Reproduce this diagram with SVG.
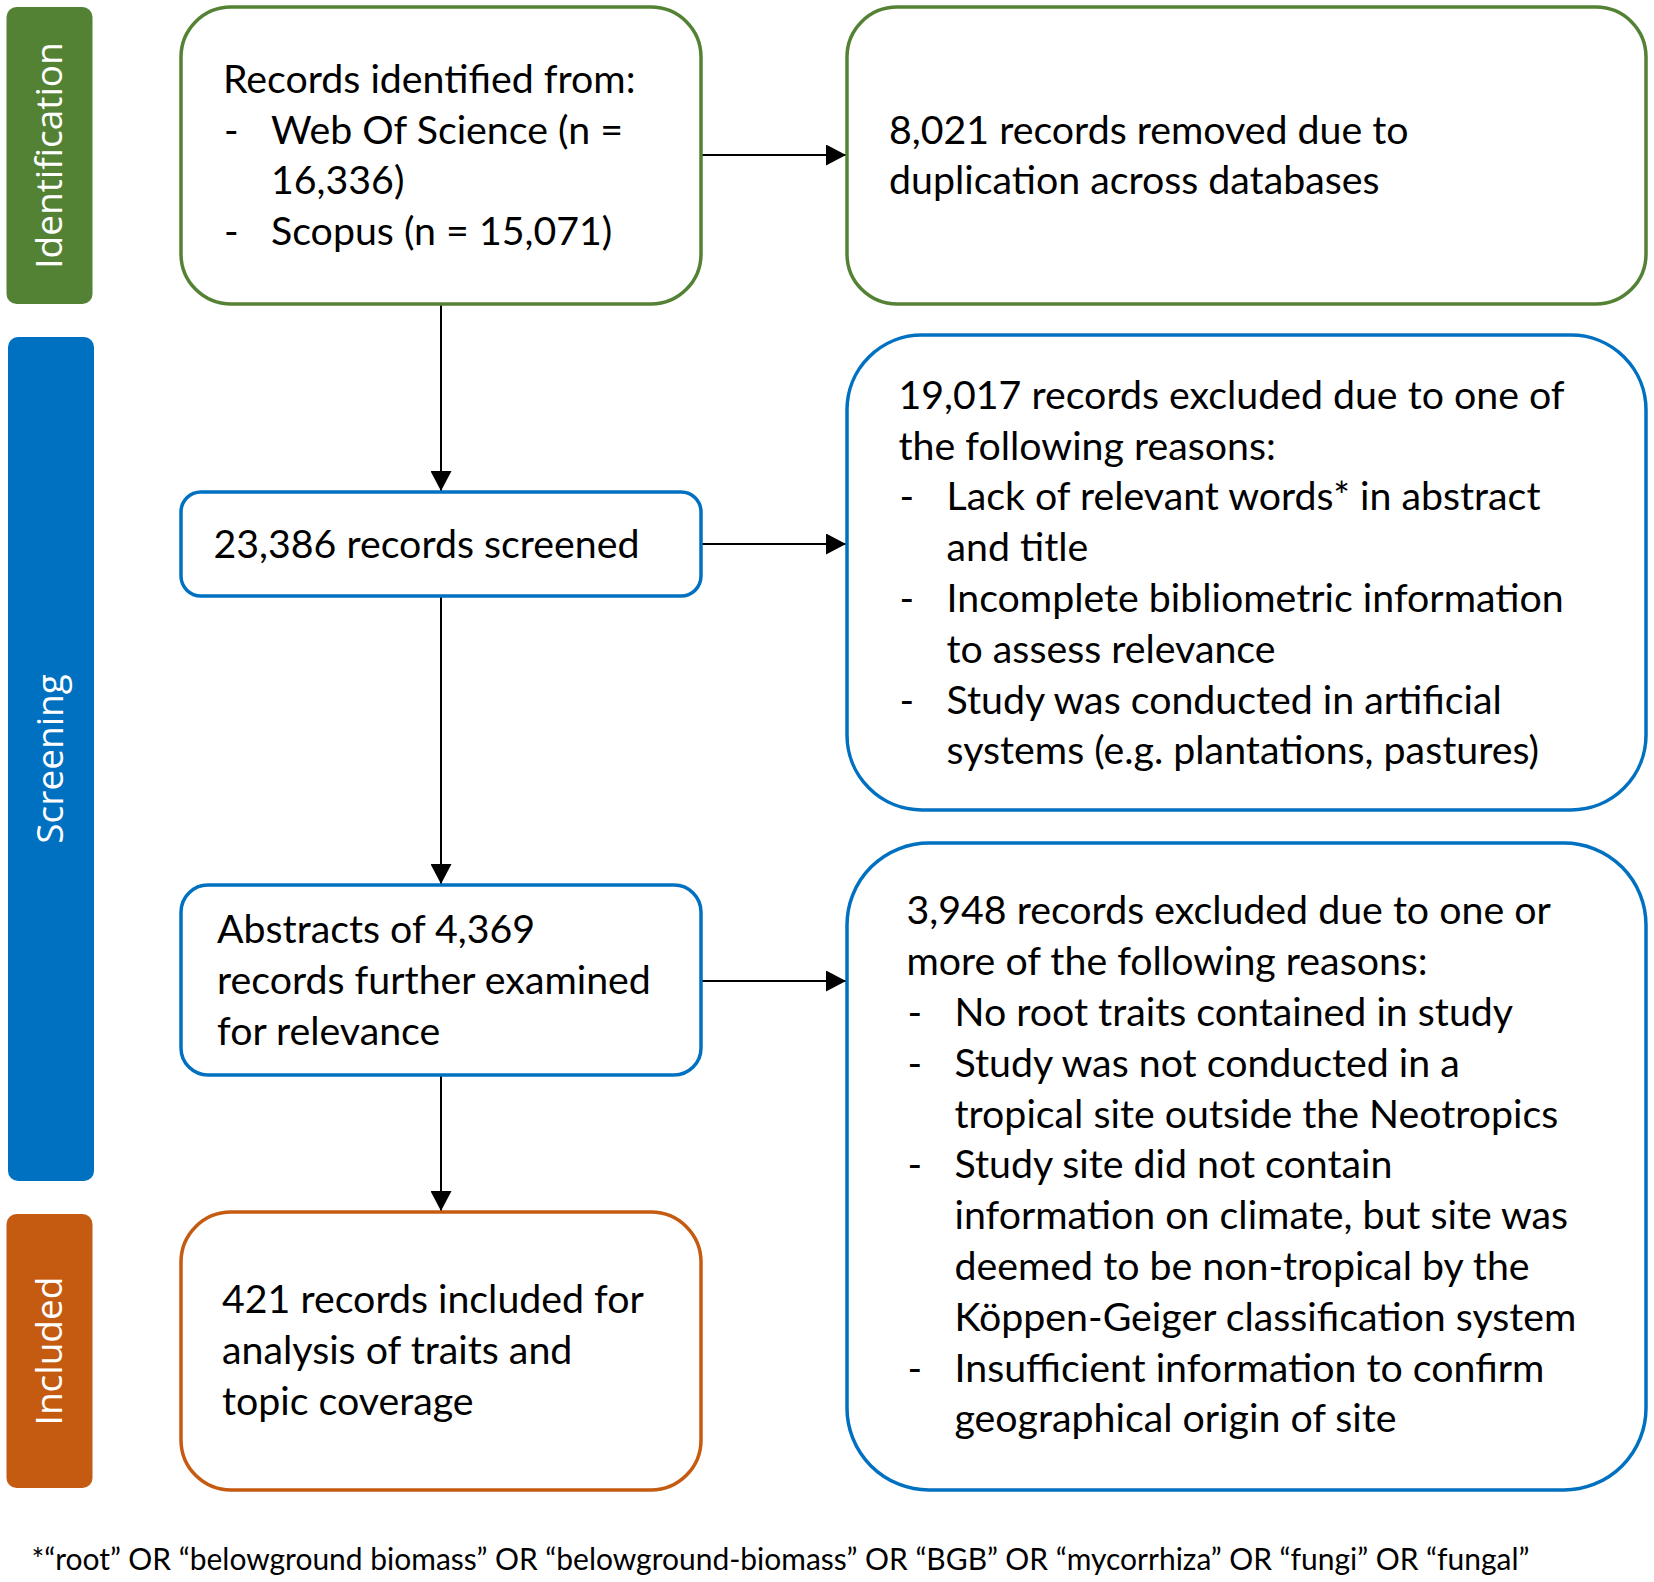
<svg xmlns="http://www.w3.org/2000/svg" width="1654" height="1582" viewBox="0 0 1654 1582">
<defs>
<style>
.tab{stroke:none}
.tl{font-family:"Open Sans","Noto Sans",sans-serif;font-size:37px;fill:#ffffff;text-anchor:middle}
.box{fill:#ffffff;stroke-width:3.5}
.g{stroke:#548235}
.b{stroke:#0070C0}
.o{stroke:#C55A11}
.t{font-family:Lato,"Liberation Sans",sans-serif;font-size:39.3px;fill:#000000}
.fn{font-family:Lato,"Liberation Sans",sans-serif;font-size:30px;fill:#000000}
.c{stroke:#000000;stroke-width:2;fill:none;marker-end:url(#ah)}
</style>
<marker id="ah" markerUnits="userSpaceOnUse" markerWidth="20" markerHeight="21" refX="20" refY="10.5" orient="auto">
<path d="M0,0 L20,10.5 L0,21 Z" fill="#000000"/>
</marker>
</defs>
<rect width="1654" height="1582" fill="#ffffff"/>

<g id="tab-identification">
<rect class="tab" x="6.5" y="7" width="86" height="297" rx="10" fill="#548235"/>
<text class="tl" transform="translate(62,155.5) rotate(-90)">Identification</text>
</g>
<g id="tab-screening">
<rect class="tab" x="8" y="337" width="86" height="844" rx="10" fill="#0070C0"/>
<text class="tl" transform="translate(63,759) rotate(-90)">Screening</text>
</g>
<g id="tab-included">
<rect class="tab" x="6.5" y="1214" width="86" height="274" rx="10" fill="#C55A11"/>
<text class="tl" transform="translate(62,1351) rotate(-90)">Included</text>
</g>

<g id="connectors">
<line class="c" x1="441" y1="304" x2="441" y2="491"/>
<line class="c" x1="441" y1="596" x2="441" y2="884"/>
<line class="c" x1="441" y1="1075" x2="441" y2="1211"/>
<line class="c" x1="701" y1="155" x2="846" y2="155"/>
<line class="c" x1="701" y1="544" x2="846" y2="544"/>
<line class="c" x1="701" y1="981" x2="846" y2="981"/>
</g>

<g id="node-identified">
<rect class="box g" x="181" y="7" width="520" height="297" rx="50"/>
<text class="t" x="223" y="93">Records identified from:</text>
<text class="t" x="224" y="143.5">-</text>
<text class="t" x="271" y="143.5">Web Of Science (n =</text>
<text class="t" x="271" y="194">16,336)</text>
<text class="t" x="224" y="245">-</text>
<text class="t" x="271" y="245">Scopus (n = 15,071)</text>
</g>

<g id="node-duplicates">
<rect class="box g" x="847" y="7" width="799" height="297" rx="50"/>
<text class="t" x="889" y="143.5">8,021 records removed due to</text>
<text class="t" x="889" y="194">duplication across databases</text>
</g>

<g id="node-screened">
<rect class="box b" x="181" y="492" width="520" height="104" rx="20"/>
<text class="t" x="213.5" y="558">23,386 records screened</text>
</g>

<g id="node-excluded-1">
<rect class="box b" x="847" y="335" width="799" height="475" rx="75"/>
<text class="t" x="898.5" y="409">19,017 records excluded due to one of</text>
<text class="t" x="898.5" y="459.5">the following reasons:</text>
<text class="t" x="899.5" y="510">-</text>
<text class="t" x="946.5" y="510">Lack of relevant words* in abstract</text>
<text class="t" x="946.5" y="561">and title</text>
<text class="t" x="899.5" y="612">-</text>
<text class="t" x="946.5" y="612">Incomplete bibliometric information</text>
<text class="t" x="946.5" y="663">to assess relevance</text>
<text class="t" x="899.5" y="714">-</text>
<text class="t" x="946.5" y="714">Study was conducted in artificial</text>
<text class="t" x="946.5" y="764">systems (e.g. plantations, pastures)</text>
</g>

<g id="node-abstracts">
<rect class="box b" x="181" y="885" width="520" height="190" rx="27"/>
<text class="t" x="217" y="943">Abstracts of 4,369</text>
<text class="t" x="217" y="994">records further examined</text>
<text class="t" x="217" y="1045">for relevance</text>
</g>

<g id="node-excluded-2">
<rect class="box b" x="847" y="843" width="799" height="647" rx="82"/>
<text class="t" x="906.5" y="924">3,948 records excluded due to one or</text>
<text class="t" x="906.5" y="974.5">more of the following reasons:</text>
<text class="t" x="907.5" y="1026">-</text>
<text class="t" x="954.5" y="1026">No root traits contained in study</text>
<text class="t" x="907.5" y="1077">-</text>
<text class="t" x="954.5" y="1077">Study was not conducted in a</text>
<text class="t" x="954.5" y="1127.5">tropical site outside the Neotropics</text>
<text class="t" x="907.5" y="1178">-</text>
<text class="t" x="954.5" y="1178">Study site did not contain</text>
<text class="t" x="954.5" y="1229">information on climate, but site was</text>
<text class="t" x="954.5" y="1280">deemed to be non-tropical by the</text>
<text class="t" x="954.5" y="1330.5">Köppen-Geiger classification system</text>
<text class="t" x="907.5" y="1381.5">-</text>
<text class="t" x="954.5" y="1381.5">Insufficient information to confirm</text>
<text class="t" x="954.5" y="1432">geographical origin of site</text>
</g>

<g id="node-included">
<rect class="box o" x="181" y="1212" width="520" height="278" rx="50"/>
<text class="t" x="222" y="1313">421 records included for</text>
<text class="t" x="222" y="1364">analysis of traits and</text>
<text class="t" x="222" y="1414.5">topic coverage</text>
</g>

<g id="footnote">
<text class="fn" x="31.5" y="1570" textLength="1498" lengthAdjust="spacingAndGlyphs">*“root” OR “belowground biomass” OR “belowground-biomass” OR “BGB” OR “mycorrhiza” OR “fungi” OR “fungal”</text>
</g>
</svg>
